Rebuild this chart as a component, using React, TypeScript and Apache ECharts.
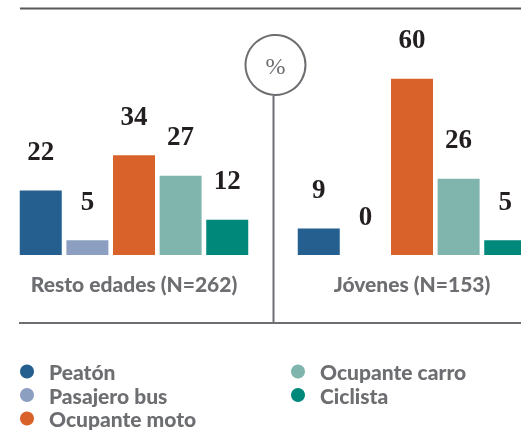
import React, { useEffect, useRef } from "react";
import * as echarts from "echarts";

const categories = ["Resto edades (N=262)", "Jóvenes (N=153)"];
const seriesNames = ["Peatón", "Pasajero bus", "Ocupante moto", "Ocupante carro", "Ciclista"];
const peaton = [22, 9];
const pasajeroBus = [5, 0];
const ocupanteMoto = [34, 60];
const ocupanteCarro = [27, 26];
const ciclista = [12, 5];
const colors = ["#245f8f", "#8c9fc1", "#d9622a", "#7fb5ad", "#00897a"];

const seriesValues = [peaton, pasajeroBus, ocupanteMoto, ocupanteCarro, ciclista];

// chart canvas is shifted 5px left inside a clipping wrapper
const OX = 5;

export default function App() {
  const ref = useRef<HTMLDivElement>(null);
  useEffect(() => {
    if (!ref.current) return;
    const chart = echarts.init(ref.current, null, { renderer: "svg" });
    const gray = "#6d6e71";
    const sans = "Lato";
    const legendText = {
      color: gray,
      fontFamily: sans,
      fontWeight: 900,
      fontSize: 21,
      lineHeight: 20,
      padding: [0, 0, 0, 10],
    };
    chart.setOption({
      animation: false,
      grid: { left: 0, right: 0, top: 20, height: 235 },
      xAxis: {
        type: "category",
        data: categories,
        axisLine: { show: false },
        axisTick: { show: false },
        axisLabel: {
          color: gray,
          fontFamily: sans,
          fontWeight: 900,
          fontSize: 21,
          margin: 18,
        },
      },
      yAxis: {
        type: "value",
        min: 0,
        max: 80,
        show: false,
        splitLine: { show: false },
      },
      legend: [
        {
          data: seriesNames.slice(0, 3),
          orient: "vertical",
          left: 20 + OX,
          top: 361,
          icon: "circle",
          itemWidth: 14,
          itemHeight: 14,
          itemGap: 2.5,
          padding: 0,
          textStyle: legendText,
        },
        {
          data: seriesNames.slice(3),
          orient: "vertical",
          left: 291 + OX,
          top: 361,
          icon: "circle",
          itemWidth: 14,
          itemHeight: 14,
          itemGap: 2.5,
          padding: 0,
          textStyle: legendText,
        },
      ],
      series: seriesNames.map((name, i) => ({
        name,
        type: "bar",
        data: seriesValues[i],
        barWidth: 42,
        barGap: "11%",
        itemStyle: { color: colors[i] },
        label: {
          show: true,
          position: "top",
          distance: 26,
          color: "#231f20",
          fontFamily: "Liberation Serif",
          fontWeight: "bold",
          fontSize: 27,
        },
      })),
      graphic: [
        { type: "line", shape: { x1: 20 + OX, y1: 8.5, x2: 521 + OX, y2: 8.5 }, style: { stroke: "#58595b", lineWidth: 2 } },
        { type: "line", shape: { x1: 19 + OX, y1: 323, x2: 521 + OX, y2: 323 }, style: { stroke: gray, lineWidth: 2 } },
        { type: "line", shape: { x1: 273.5 + OX, y1: 96, x2: 273.5 + OX, y2: 323 }, style: { stroke: gray, lineWidth: 2 } },
        { type: "circle", shape: { cx: 275.5 + OX, cy: 65, r: 30 }, style: { fill: "#fff", stroke: gray, lineWidth: 2 } },
        {
          type: "text",
          x: 275.5 + OX,
          y: 66,
          style: {
            text: "%",
            fill: gray,
            font: "24px 'Liberation Serif'",
            textAlign: "center",
            textVerticalAlign: "middle",
          },
        },
      ],
    });
    return () => chart.dispose();
  }, []);
  return (
    <div style={{ position: "fixed", left: 0, top: 0, width: 521, height: 432, overflow: "hidden" }}>
      <div ref={ref} style={{ position: "absolute", left: -OX, top: 0, width: 556, height: 432 }} />
    </div>
  );
}
